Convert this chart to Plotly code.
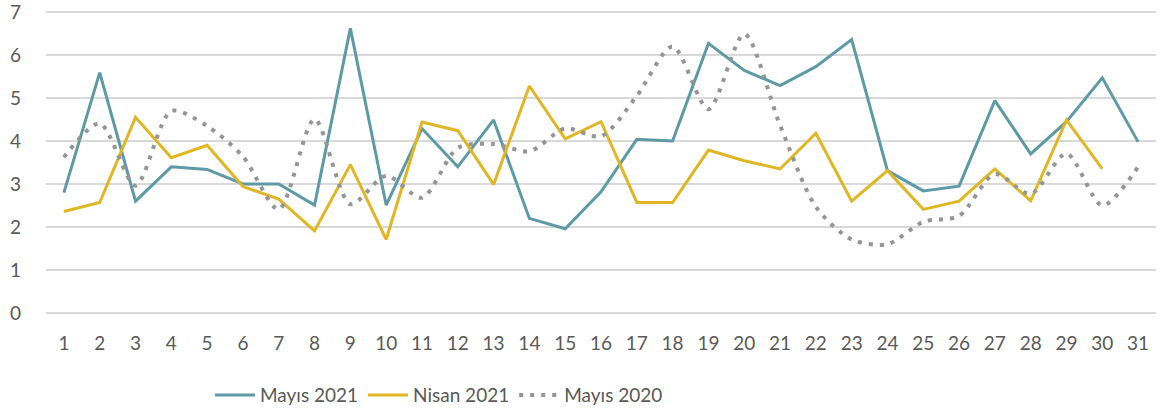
"""Daily values: Mayıs 2021 vs Nisan 2021 vs Mayıs 2020."""

import plotly.graph_objects as go

days = list(range(1, 32))

mayis_2021 = [2.80, 5.59, 2.60, 3.40, 3.34, 3.00, 3.00, 2.51, 6.62, 2.51,
              4.29, 3.40, 4.49, 2.20, 1.96, 2.82, 4.04, 4.00, 6.27, 5.64,
              5.29, 5.73, 6.36, 3.31, 2.84, 2.95, 4.94, 3.70, 4.45, 5.47,
              3.98]

nisan_2021 = [2.36, 2.57, 4.55, 3.61, 3.90, 2.94, 2.65, 1.91, 3.45, 1.71,
              4.44, 4.24, 2.99, 5.28, 4.05, 4.45, 2.57, 2.57, 3.79, 3.54,
              3.35, 4.18, 2.60, 3.31, 2.41, 2.60, 3.35, 2.61, 4.49, 3.35]

mayis_2020 = [3.62, 4.41, 2.96, 4.70, 4.35, 3.64, 2.41, 4.51, 2.53, 3.19,
              2.68, 3.84, 3.93, 3.76, 4.29, 4.11, 5.05, 6.20, 4.74, 6.49,
              4.37, 2.47, 1.71, 1.60, 2.12, 2.26, 3.23, 2.77, 3.71, 2.50,
              3.40]

COLORS = {
    "mayis_2021": "#5E9AA5",
    "nisan_2021": "#E0B623",
    "mayis_2020": "#959595",
    "text": "#595959",
    "grid": "#D9D9D9",
}

FONT = "Lato, 'Open Sans', sans-serif"

fig = go.Figure()
fig.add_trace(go.Scatter(
    x=days, y=mayis_2021, name="Mayıs 2021", mode="lines",
    line=dict(color=COLORS["mayis_2021"], width=3),
))
fig.add_trace(go.Scatter(
    x=days[:len(nisan_2021)], y=nisan_2021, name="Nisan 2021", mode="lines",
    line=dict(color=COLORS["nisan_2021"], width=3),
))
fig.add_trace(go.Scatter(
    x=days, y=mayis_2020, name="Mayıs 2020", mode="lines",
    line=dict(color=COLORS["mayis_2020"], width=4, dash="4px,7px",
              shape="spline", smoothing=0.8),
))

fig.update_layout(
    template="none",
    width=1162, height=416,
    margin=dict(l=46, r=6, t=10, b=101, pad=0),
    paper_bgcolor="white", plot_bgcolor="white",
    font=dict(family=FONT, size=19, color=COLORS["text"]),
    showlegend=True,
    legend=dict(orientation="h", xanchor="center", x=0.354,
                yref="container", yanchor="middle", y=0.05,
                font=dict(size=19), itemwidth=40, tracegroupgap=0,
                bgcolor="rgba(0,0,0,0)"),
    xaxis=dict(range=[0.5, 31.5], tickmode="linear", tick0=1, dtick=1,
               showgrid=False, zeroline=False, showline=False, ticks="",
               ticklabelstandoff=15, automargin=False, fixedrange=True),
    # padded a little past 0 and 7 so the end gridlines are not clipped
    yaxis=dict(range=[-0.047, 7.047], tickmode="linear", tick0=0, dtick=1,
               showgrid=True, gridcolor=COLORS["grid"], gridwidth=2,
               zeroline=False, showline=False, ticks="",
               ticklabelstandoff=24, ticklabeloverflow="allow",
               automargin=False, fixedrange=True),
)

# drop the browser's default body margin and any scrollbars
fig.write_html(
    "out.html", config={"displayModeBar": False},
    post_script="document.body.style.margin='0';"
                "document.body.style.overflow='hidden';",
)
